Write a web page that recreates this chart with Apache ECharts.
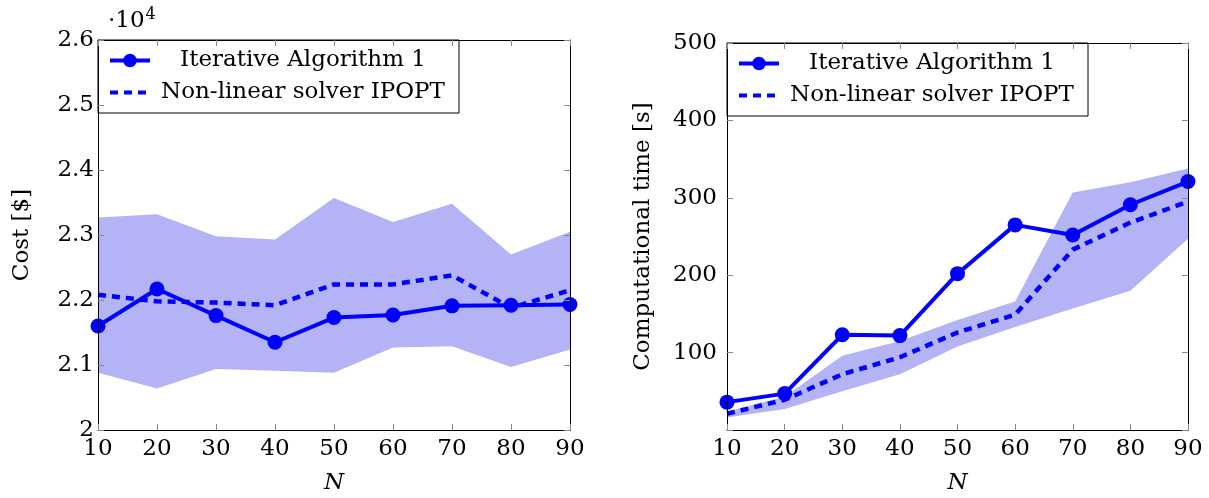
<!DOCTYPE html>
<html>
<head>
<meta charset="utf-8">
<script src="https://cdn.jsdelivr.net/npm/echarts@6/dist/echarts.min.js"></script>
<style>
html,body{margin:0;padding:0;background:#fff;}
#chart{width:1209px;height:498px;}
</style>
</head>
<body>
<div id="chart"></div>
<script>
// ---- data ----
const N = [10, 20, 30, 40, 50, 60, 70, 80, 90];

// Left: cost [$]
const costIterative = [21600, 22170, 21760, 21350, 21730, 21770, 21910, 21920, 21930];
const costIpopt     = [22080, 21980, 21960, 21920, 22240, 22240, 22380, 21880, 22150];
const costBandLow   = [20880, 20640, 20940, 20910, 20880, 21270, 21290, 20970, 21240];
const costBandHigh  = [23270, 23320, 22980, 22930, 23570, 23200, 23480, 22700, 23050];

// Right: computational time [s]
const timeIterative = [36, 47, 123, 122, 202, 265, 252, 291, 321];
const timeIpopt     = [21, 39, 72, 94, 126, 149, 233, 268, 295];
const timeBandLow   = [16, 27, 50, 72, 108, 133, 157, 180, 247];
const timeBandHigh  = [24, 43, 96, 115, 142, 166, 307, 320, 338];

const costTicks = [20000, 21000, 22000, 23000, 24000, 25000, 26000];
const timeTicks = [100, 200, 300, 400, 500];

const nameIter = 'Iterative Algorithm 1';
const nameIpopt = 'Non-linear solver IPOPT';

// ---- styling ----
const FONT = 'DejaVu Serif';
const BLUE = '#0000ff';
const BAND = '#b3b3f6';
const FS = 23;

function pairs(xs, ys) { return xs.map((x, i) => [x, ys[i]]); }
function rows(xs, lo, hi) { return xs.map((x, i) => [x, lo[i], hi[i]]); }

function bandSeries(xi, yi, lo, hi) {
  return {
    type: 'custom', xAxisIndex: xi, yAxisIndex: yi, z: 1, silent: true,
    data: rows(N, lo, hi),
    encode: { x: 0, y: [1, 2] },
    renderItem: function (params, api) {
      if (params.dataIndex !== 0) return null;
      const upper = N.map((x, i) => api.coord([x, hi[i]]));
      const lower = N.map((x, i) => api.coord([x, lo[i]])).reverse();
      return { type: 'polygon', shape: { points: upper.concat(lower) }, style: { fill: BAND, stroke: null } };
    }
  };
}

function xAxes(gi) {
  return [
    {
      type: 'value', gridIndex: gi, min: 10, max: 90, interval: 10, position: 'bottom', z: 5,
      name: 'N', nameLocation: 'middle', nameGap: 42,
      nameTextStyle: { fontFamily: FONT, fontSize: FS, fontStyle: 'italic', color: '#000' },
      axisLine: { show: true, onZero: false, lineStyle: { color: '#000', width: 1 } },
      axisTick: { show: true, inside: true, length: 6, lineStyle: { color: '#888' } },
      axisLabel: { fontFamily: FONT, fontSize: FS, color: '#000', margin: 8 },
      splitLine: { show: false }
    },
    {
      type: 'value', gridIndex: gi, min: 10, max: 90, interval: 10, position: 'top', z: 5,
      axisLine: { show: true, onZero: false, lineStyle: { color: '#000', width: 1 } },
      axisTick: { show: true, inside: true, length: 6, lineStyle: { color: '#888' } },
      axisLabel: { show: false },
      splitLine: { show: false }
    }
  ];
}

function legendFor(left, top) {
  return {
    left: left, top: top, orient: 'vertical', itemWidth: 40, itemHeight: 17, itemGap: 9,
    padding: [9, 8, 9, 10], backgroundColor: '#fff', borderColor: '#000', borderWidth: 1,
    data: [
      { name: nameIter },
      { name: nameIpopt, itemStyle: { color: 'rgba(0,0,0,0)', borderWidth: 0, opacity: 0 } }
    ],
    lineStyle: { width: 4 },
    formatter: n => '{a|' + n + '}',
    textStyle: { fontFamily: FONT, fontSize: FS, color: '#000',
      rich: { a: { width: 296, align: 'center', fontFamily: FONT, fontSize: FS, lineHeight: 25 } } }
  };
}

const option = {
  animation: false,
  backgroundColor: '#fff',
  title: {
    text: '{a|·10}{b|4}', left: 103, top: 2,
    textStyle: { fontFamily: FONT, fontSize: FS, fontWeight: 'normal', color: '#000',
      rich: {
        a: { fontFamily: FONT, fontSize: FS, color: '#000' },
        b: { fontFamily: FONT, fontSize: 16, color: '#000', verticalAlign: 'top', padding: [0, 0, 12, 1] }
      } }
  },
  grid: [
    { left: 98, top: 40, width: 472, height: 390, outerBoundsMode: 'none', containLabel: false },
    { left: 727, top: 43, width: 461, height: 387, outerBoundsMode: 'none', containLabel: false }
  ],
  legend: [legendFor(98, 40), legendFor(727, 43)],
  xAxis: [...xAxes(0), ...xAxes(1)],
  yAxis: [
    {
      type: 'value', gridIndex: 0, min: costTicks[0], max: costTicks[costTicks.length - 1], interval: 1000,
      position: 'left', z: 5,
      name: 'Cost [$]', nameLocation: 'middle', nameGap: 64,
      nameTextStyle: { fontFamily: FONT, fontSize: FS, color: '#000' },
      axisLine: { show: true, onZero: false, lineStyle: { color: '#000', width: 1 } },
      axisTick: { show: true, inside: true, length: 6, lineStyle: { color: '#888' } },
      axisLabel: { fontFamily: FONT, fontSize: FS, color: '#000', margin: 4,
        formatter: v => String(+(v / 10000).toFixed(1)) },
      splitLine: { show: false }
    },
    {
      type: 'value', gridIndex: 0, min: costTicks[0], max: costTicks[costTicks.length - 1], interval: 1000,
      position: 'right', z: 5,
      axisLine: { show: true, onZero: false, lineStyle: { color: '#000', width: 1 } },
      axisTick: { show: true, inside: true, length: 6, lineStyle: { color: '#888' } },
      axisLabel: { show: false },
      splitLine: { show: false }
    },
    {
      type: 'value', gridIndex: 1, min: 0, max: timeTicks[timeTicks.length - 1], interval: 100,
      position: 'left', z: 5,
      name: 'Computational time [s]', nameLocation: 'middle', nameGap: 72,
      nameTextStyle: { fontFamily: FONT, fontSize: FS, color: '#000' },
      axisLine: { show: true, onZero: false, lineStyle: { color: '#000', width: 1 } },
      axisTick: { show: true, inside: true, length: 6, lineStyle: { color: '#888' } },
      axisLabel: { fontFamily: FONT, fontSize: FS, color: '#000', margin: 10,
        formatter: v => (timeTicks.indexOf(v) >= 0 ? String(v) : '') },
      splitLine: { show: false }
    },
    {
      type: 'value', gridIndex: 1, min: 0, max: timeTicks[timeTicks.length - 1], interval: 100,
      position: 'right', z: 5,
      axisLine: { show: true, onZero: false, lineStyle: { color: '#000', width: 1 } },
      axisTick: { show: true, inside: true, length: 6, lineStyle: { color: '#888' } },
      axisLabel: { show: false },
      splitLine: { show: false }
    }
  ],
  series: [
    bandSeries(0, 0, costBandLow, costBandHigh),
    { name: nameIpopt, type: 'line', xAxisIndex: 0, yAxisIndex: 0, data: pairs(N, costIpopt),
      symbol: 'none', color: BLUE, lineStyle: { color: BLUE, width: 4.5, type: [8, 6] }, z: 3 },
    { name: nameIter, type: 'line', xAxisIndex: 0, yAxisIndex: 0, data: pairs(N, costIterative),
      symbol: 'circle', symbolSize: 15, color: BLUE, itemStyle: { color: BLUE },
      lineStyle: { color: BLUE, width: 4 }, z: 4 },
    bandSeries(2, 2, timeBandLow, timeBandHigh),
    { name: nameIpopt, type: 'line', xAxisIndex: 2, yAxisIndex: 2, data: pairs(N, timeIpopt),
      symbol: 'none', color: BLUE, lineStyle: { color: BLUE, width: 4.5, type: [8, 6] }, z: 3 },
    { name: nameIter, type: 'line', xAxisIndex: 2, yAxisIndex: 2, data: pairs(N, timeIterative),
      symbol: 'circle', symbolSize: 15, color: BLUE, itemStyle: { color: BLUE },
      lineStyle: { color: BLUE, width: 4 }, z: 4 }
  ]
};

const chart = echarts.init(document.getElementById('chart'), null, { renderer: 'canvas' });
chart.setOption(option);
</script>
</body>
</html>
